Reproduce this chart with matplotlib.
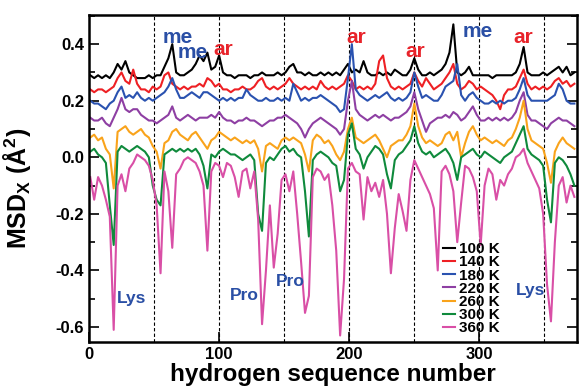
import matplotlib
matplotlib.use("Agg")
import matplotlib.pyplot as plt
from matplotlib.ticker import MultipleLocator, FormatStrFormatter
import numpy as np

plt.rcParams['font.family'] = ['Liberation Sans', 'DejaVu Sans']
plt.rcParams['font.weight'] = 'bold'
plt.rcParams['axes.unicode_minus'] = False
plt.rcParams['mathtext.fontset'] = 'custom'
plt.rcParams['mathtext.rm'] = 'Liberation Sans:bold'
plt.rcParams['mathtext.bf'] = 'Liberation Sans:bold'

# hydrogen index, sampled every third hydrogen
hydrogen = np.arange(1, 374, 3)

t100 = [0.29, 0.28, 0.29, 0.28, 0.29, 0.28, 0.30, 0.33, 0.31, 0.34,
        0.30, 0.29, 0.28, 0.28, 0.28, 0.29, 0.28, 0.29, 0.29, 0.32,
        0.35, 0.40, 0.30, 0.29, 0.29, 0.30, 0.31, 0.33, 0.36, 0.34,
        0.37, 0.31, 0.32, 0.36, 0.30, 0.29, 0.29, 0.28, 0.29, 0.29,
        0.29, 0.28, 0.29, 0.29, 0.30, 0.29, 0.29, 0.29, 0.30, 0.29,
        0.30, 0.32, 0.33, 0.30, 0.30, 0.29, 0.30, 0.29, 0.29, 0.30,
        0.29, 0.30, 0.29, 0.30, 0.29, 0.31, 0.33, 0.30, 0.31, 0.30,
        0.34, 0.30, 0.29, 0.29, 0.30, 0.29, 0.30, 0.29, 0.31, 0.30,
        0.29, 0.29, 0.31, 0.35, 0.31, 0.29, 0.29, 0.30, 0.29, 0.30,
        0.31, 0.33, 0.37, 0.47, 0.30, 0.29, 0.30, 0.32, 0.29, 0.29,
        0.29, 0.29, 0.29, 0.28, 0.29, 0.29, 0.29, 0.29, 0.29, 0.30,
        0.33, 0.39, 0.30, 0.29, 0.29, 0.29, 0.30, 0.29, 0.30, 0.31,
        0.32, 0.30, 0.32, 0.29, 0.30]

t140 = [0.24, 0.23, 0.24, 0.24, 0.23, 0.24, 0.25, 0.28, 0.30, 0.27,
        0.26, 0.31, 0.26, 0.24, 0.24, 0.23, 0.25, 0.24, 0.25, 0.29,
        0.30, 0.26, 0.25, 0.24, 0.25, 0.24, 0.25, 0.25, 0.26, 0.25,
        0.28, 0.27, 0.25, 0.26, 0.24, 0.24, 0.23, 0.24, 0.24, 0.25,
        0.24, 0.24, 0.25, 0.27, 0.28, 0.25, 0.24, 0.25, 0.24, 0.25,
        0.26, 0.28, 0.26, 0.25, 0.24, 0.25, 0.24, 0.25, 0.24, 0.27,
        0.25, 0.24, 0.25, 0.24, 0.25, 0.26, 0.29, 0.27, 0.24, 0.25,
        0.24, 0.25, 0.24, 0.26, 0.34, 0.36, 0.28, 0.25, 0.24, 0.25,
        0.24, 0.25, 0.26, 0.30, 0.27, 0.25, 0.28, 0.26, 0.24, 0.25,
        0.26, 0.28, 0.30, 0.33, 0.26, 0.24, 0.25, 0.27, 0.26, 0.24,
        0.25, 0.24, 0.23, 0.22, 0.20, 0.17, 0.22, 0.24, 0.24, 0.25,
        0.28, 0.31, 0.26, 0.24, 0.25, 0.24, 0.25, 0.24, 0.25, 0.27,
        0.28, 0.26, 0.27, 0.25, 0.26]

t180 = [0.20, 0.19, 0.19, 0.18, 0.17, 0.19, 0.20, 0.23, 0.25, 0.21,
        0.22, 0.21, 0.23, 0.21, 0.20, 0.21, 0.20, 0.21, 0.22, 0.23,
        0.25, 0.28, 0.24, 0.21, 0.21, 0.22, 0.23, 0.22, 0.21, 0.23,
        0.23, 0.22, 0.21, 0.20, 0.21, 0.20, 0.21, 0.20, 0.21, 0.21,
        0.24, 0.22, 0.21, 0.20, 0.20, 0.21, 0.20, 0.20, 0.21, 0.20,
        0.21, 0.20, 0.26, 0.23, 0.20, 0.21, 0.20, 0.21, 0.21, 0.22,
        0.21, 0.20, 0.19, 0.18, 0.16, 0.17, 0.28, 0.40, 0.24, 0.22,
        0.21, 0.20, 0.21, 0.22, 0.21, 0.22, 0.23, 0.21, 0.20, 0.21,
        0.20, 0.21, 0.23, 0.30, 0.25, 0.21, 0.22, 0.21, 0.20, 0.20,
        0.22, 0.25, 0.26, 0.27, 0.33, 0.22, 0.20, 0.22, 0.23, 0.21,
        0.20, 0.19, 0.19, 0.20, 0.19, 0.20, 0.19, 0.20, 0.20, 0.21,
        0.24, 0.28, 0.22, 0.20, 0.20, 0.20, 0.20, 0.20, 0.21, 0.22,
        0.26, 0.24, 0.20, 0.19, 0.19]

t220 = [0.14, 0.13, 0.13, 0.14, 0.12, 0.11, 0.14, 0.17, 0.21, 0.17,
        0.16, 0.17, 0.17, 0.15, 0.14, 0.13, 0.13, 0.12, 0.13, 0.14,
        0.15, 0.18, 0.14, 0.13, 0.14, 0.15, 0.14, 0.13, 0.14, 0.14,
        0.14, 0.15, 0.14, 0.16, 0.14, 0.13, 0.13, 0.12, 0.13, 0.13,
        0.14, 0.13, 0.13, 0.12, 0.11, 0.12, 0.13, 0.13, 0.14, 0.14,
        0.15, 0.14, 0.13, 0.12, 0.10, 0.07, 0.10, 0.12, 0.13, 0.14,
        0.13, 0.12, 0.11, 0.10, 0.08, 0.10, 0.20, 0.27, 0.17, 0.15,
        0.14, 0.13, 0.14, 0.15, 0.14, 0.15, 0.14, 0.13, 0.14, 0.14,
        0.15, 0.16, 0.18, 0.23, 0.17, 0.13, 0.09, 0.12, 0.13, 0.14,
        0.14, 0.15, 0.14, 0.16, 0.15, 0.13, 0.14, 0.16, 0.18, 0.15,
        0.13, 0.13, 0.14, 0.13, 0.14, 0.13, 0.14, 0.13, 0.14, 0.16,
        0.20, 0.23, 0.15, 0.13, 0.13, 0.12, 0.11, 0.10, 0.12, 0.13,
        0.14, 0.13, 0.13, 0.12, 0.11]

t260 = [0.07, 0.08, 0.06, 0.07, 0.03, 0.01, -0.11, 0.09, 0.10, 0.11,
        0.09, 0.08, 0.09, 0.10, 0.08, 0.07, 0.04, 0.02, -0.04, 0.05,
        0.06, 0.09, 0.10, 0.08, 0.07, 0.06, 0.08, 0.09, 0.07, 0.05,
        0.03, 0.06, 0.07, 0.09, 0.08, 0.07, 0.06, 0.07, 0.06, 0.05,
        0.06, 0.05, 0.06, 0.03, -0.05, 0.04, 0.05, 0.04, 0.03, 0.06,
        0.07, 0.06, 0.07, 0.06, 0.05, 0.01, -0.05, 0.06, 0.08, 0.07,
        0.05, 0.06, 0.04, 0.01, -0.01, 0.02, 0.10, 0.14, 0.07, 0.06,
        0.05, 0.06, 0.07, 0.08, 0.06, 0.03, 0.00, 0.04, 0.05, 0.06,
        0.06, 0.08, 0.11, 0.19, 0.11, 0.07, 0.05, 0.06, 0.05, 0.04,
        0.05, 0.08, 0.09, 0.06, 0.09, 0.00, 0.05, 0.09, 0.11, 0.08,
        0.06, 0.07, 0.06, 0.05, 0.06, 0.05, 0.04, 0.06, 0.07, 0.10,
        0.14, 0.20, 0.10, 0.06, 0.05, 0.04, 0.03, -0.02, -0.09, 0.02,
        0.05, 0.07, 0.05, 0.04, 0.03]

t300 = [0.02, 0.03, 0.01, 0.00, -0.02, -0.17, -0.31, 0.02, 0.04, 0.03,
        0.02, 0.03, 0.04, 0.03, 0.02, 0.00, -0.10, -0.15, -0.17, 0.01,
        0.02, 0.03, 0.02, 0.03, 0.02, 0.03, 0.02, 0.03, 0.01, -0.03,
        -0.11, 0.01, 0.00, 0.02, 0.03, 0.02, 0.01, 0.01, 0.00, -0.01,
        0.00, 0.01, -0.01, -0.20, -0.26, -0.02, 0.00, -0.01, 0.01, 0.03,
        0.04, 0.02, 0.03, 0.01, 0.00, -0.12, -0.28, -0.01, 0.01, 0.02,
        0.01, 0.00, -0.02, -0.03, -0.12, -0.08, 0.08, 0.12, 0.03, 0.01,
        -0.04, 0.00, 0.02, 0.04, 0.03, 0.01, -0.06, -0.11, -0.01, 0.01,
        0.02, 0.04, 0.06, 0.11, 0.05, 0.02, 0.01, 0.02, 0.00, 0.01,
        0.02, 0.03, 0.01, -0.02, -0.08, 0.00, 0.01, 0.02, 0.03, 0.01,
        0.00, 0.02, 0.01, 0.00, -0.01, -0.02, 0.00, 0.01, 0.02, 0.05,
        0.08, 0.11, 0.03, 0.01, 0.00, -0.01, -0.03, -0.15, -0.23, -0.02,
        0.00, -0.01, -0.03, -0.06, -0.10]

t360 = [-0.07, -0.15, -0.07, -0.10, -0.15, -0.21, -0.61, -0.10, -0.06, -0.12,
        -0.04, -0.02, 0.01, 0.00, -0.01, -0.03, -0.08, -0.17, -0.41, -0.05,
        -0.12, -0.32, -0.06, -0.04, -0.01, 0.00, -0.01, -0.02, -0.05, -0.10,
        -0.33, -0.05, -0.02, -0.03, -0.07, -0.02, -0.03, -0.07, -0.14, -0.05,
        -0.04, -0.11, -0.05, -0.22, -0.59, -0.40, -0.17, -0.39, -0.27, -0.08,
        -0.06, -0.12, -0.05, -0.20, -0.37, -0.55, -0.49, -0.07, -0.04, -0.05,
        -0.08, -0.06, -0.17, -0.33, -0.63, -0.43, -0.04, -0.02, -0.05, -0.06,
        -0.22, -0.07, -0.12, -0.09, -0.14, -0.08, -0.20, -0.41, -0.25, -0.13,
        -0.19, -0.26, -0.08, -0.01, -0.04, -0.07, -0.10, -0.13, -0.18, -0.40,
        -0.05, -0.03, -0.06, -0.12, -0.30, -0.16, -0.03, -0.04, -0.07, -0.12,
        -0.31, -0.10, -0.04, -0.06, -0.15, -0.08, -0.10, -0.06, -0.04, 0.00,
        0.01, 0.03, -0.02, -0.05, -0.08, -0.11, -0.20, -0.45, -0.58, -0.30,
        -0.10, -0.07, -0.16, -0.10, -0.14]

temps = ['100 K', '140 K', '180 K', '220 K', '260 K', '300 K', '360 K']
series = [t100, t140, t180, t220, t260, t300, t360]
colors = ['black', '#ee2024', '#2a52b0', '#8e3fa3', '#f9a31b', '#0f8a3c', '#d94fa6']

# residue boundaries
boundaries = [50, 100, 150, 200, 250, 300, 350]

# group labels: (text, x, y, colour)
labels_text = ['me', 'me', 'ar', 'ar', 'ar', 'me', 'ar', 'Lys', 'Pro', 'Pro', 'Lys']
labels_x = [68, 80, 103, 205, 251, 299, 334, 33, 119, 155, 339]
labels_y = [0.425, 0.37, 0.38, 0.425, 0.375, 0.445, 0.425, -0.50, -0.49, -0.44, -0.47]
labels_col = ['#2a4fa5', '#2a4fa5', '#e8232a', '#e8232a', '#e8232a', '#2a4fa5',
              '#e8232a', '#2a4fa5', '#2a4fa5', '#2a4fa5', '#2a4fa5']
labels_size = [15, 15, 15, 15, 15, 15, 15, 12.5, 12.5, 12.5, 12.5]

fig = plt.figure(figsize=(5.8, 3.89), dpi=100)
ax = fig.add_axes([0.1534, 0.1208, 0.8414, 0.8406])

for b in boundaries:
    ax.axvline(b, color='black', lw=0.8, ls=(0, (3, 2)), zorder=1)

for vals, c, lab in zip(series, colors, temps):
    ax.plot(hydrogen, vals, color=c, lw=1.5, label=lab, zorder=2)

for t, x, y, c, s in zip(labels_text, labels_x, labels_y, labels_col, labels_size):
    ax.text(x, y, t, color=c, fontsize=s, fontweight='bold', ha='center', va='center', zorder=3)

ax.set_xlim(0, 375)
ax.set_ylim(-0.653, 0.503)
ax.set_xticks([0, 100, 200, 300])
ax.yaxis.set_major_locator(MultipleLocator(0.2))
ax.yaxis.set_minor_locator(MultipleLocator(0.1))
ax.yaxis.set_major_formatter(FormatStrFormatter('%.1f'))
ax.tick_params(which='both', direction='in', right=True, top=False, labelsize=12, width=1.2)
ax.tick_params(which='major', length=7)
ax.tick_params(which='minor', length=4)
for sp in ax.spines.values():
    sp.set_linewidth(1.8)

ax.set_xlabel('hydrogen sequence number', fontsize=17.5, fontweight='bold', labelpad=1)
ax.set_ylabel(r'MSD$_\mathbf{X}$ (Å$^\mathbf{2}$)', fontsize=18, fontweight='bold')
ax.yaxis.set_label_coords(-0.115, 0.47)

leg = ax.legend(loc='lower left', bbox_to_anchor=(0.725, 0.02), frameon=False,
                borderpad=0, borderaxespad=0, handlelength=0.8, handletextpad=0.25,
                labelspacing=-0.05, prop={'size': 11, 'weight': 'bold'})

fig.savefig('out.png', dpi=100)
